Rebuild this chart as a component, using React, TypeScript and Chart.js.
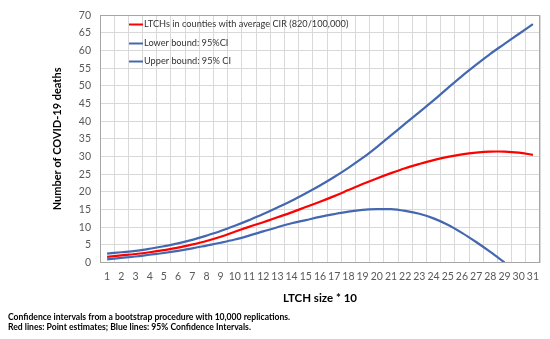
import React, { useEffect, useRef } from 'react';
import { Chart, registerables } from 'chart.js';

Chart.register(...registerables);

const categories = ['1', '2', '3', '4', '5', '6', '7', '8', '9', '10', '11', '12', '13', '14', '15', '16', '17', '18', '19', '20', '21', '22', '23', '24', '25', '26', '27', '28', '29', '30', '31'];

const pointEstimate = [1.6, 2.0, 2.4, 2.9, 3.5, 4.2, 5.1, 6.1, 7.3, 8.7, 10.1, 11.4, 12.8, 14.2, 15.7, 17.2, 18.8, 20.5, 22.2, 23.8, 25.3, 26.7, 27.9, 29.0, 29.9, 30.6, 31.1, 31.4, 31.4, 31.1, 30.5];

const lowerBound = [0.9, 1.3, 1.7, 2.2, 2.7, 3.3, 4.0, 4.8, 5.6, 6.5, 7.6, 8.8, 10.0, 11.1, 12.0, 12.9, 13.7, 14.4, 14.9, 15.1, 15.1, 14.6, 13.8, 12.5, 10.7, 8.4, 5.8, 3.0, 0.0, null, null];

const upperBound = [2.5, 2.9, 3.3, 3.9, 4.6, 5.4, 6.4, 7.6, 8.9, 10.4, 12.0, 13.7, 15.6, 17.5, 19.6, 21.8, 24.2, 26.8, 29.6, 32.7, 36.0, 39.3, 42.6, 45.9, 49.4, 52.8, 56.0, 59.1, 61.9, 64.7, 67.5];

const seriesLabels = ['LTCHs in counties with average CIR (820/100,000)', 'Lower bound: 95%CI', 'Upper bound: 95% CI'];
const xAxisTitle = 'LTCH size * 10';
const yAxisTitle = 'Number of COVID-19 deaths';
const footnoteLines = [
  'Confidence intervals from a bootstrap procedure with 10,000 replications.',
  'Red lines: Point estimates; Blue lines: 95% Confidence Intervals.',
];

const FONT = "Lato, 'Liberation Sans', sans-serif";
const RED = '#FF0000';
const BLUE = '#4468B0';

const insideLegend = {
  id: 'insideLegend',
  afterDatasetsDraw(chart: any) {
    const { ctx, chartArea } = chart;
    ctx.save();
    ctx.font = `9.2px ${FONT}`;
    ctx.textBaseline = 'middle';
    ctx.textAlign = 'left';
    chart.data.datasets.forEach((ds: any, i: number) => {
      const y = Math.round(chartArea.top + 9 + i * 18.3) + 0.5;
      const x = chartArea.left + 29;
      ctx.strokeStyle = ds.borderColor;
      ctx.lineWidth = 2;
      ctx.beginPath();
      ctx.moveTo(x, y);
      ctx.lineTo(x + 14, y);
      ctx.stroke();
      ctx.fillStyle = '#333333';
      ctx.fillText(ds.label, x + 15, y);
    });
    ctx.restore();
  },
};

const plotBorder = {
  id: 'plotBorder',
  afterDraw(chart: any) {
    const { ctx, chartArea } = chart;
    const l = Math.round(chartArea.left) + 0.5;
    const t = Math.round(chartArea.top) + 0.5;
    const r = Math.round(chartArea.right) - 0.5;
    const b = Math.round(chartArea.bottom) - 0.5;
    ctx.save();
    ctx.strokeStyle = '#A6A6A6';
    ctx.lineWidth = 1;
    ctx.strokeRect(l, t, r - l, b - t);
    ctx.restore();
  },
};

export default function App() {
  const ref = useRef<HTMLCanvasElement | null>(null);

  useEffect(() => {
    if (!ref.current) return;
    const chart = new Chart(ref.current, {
      type: 'line',
      data: {
        labels: categories,
        datasets: [
          { label: seriesLabels[0], data: pointEstimate, borderColor: RED, backgroundColor: RED, borderWidth: 2.2, pointRadius: 0, tension: 0.35, fill: false },
          { label: seriesLabels[1], data: lowerBound, borderColor: BLUE, backgroundColor: BLUE, borderWidth: 2.2, pointRadius: 0, tension: 0.35, fill: false },
          { label: seriesLabels[2], data: upperBound, borderColor: BLUE, backgroundColor: BLUE, borderWidth: 2.2, pointRadius: 0, tension: 0.35, fill: false },
        ],
      },
      options: {
        animation: false,
        responsive: true,
        maintainAspectRatio: false,
        layout: { padding: { left: 8, right: 10, top: 15, bottom: 6 } },
        plugins: {
          legend: { display: false },
          tooltip: { enabled: false },
          title: {
            display: true,
            position: 'bottom',
            align: 'start',
            text: footnoteLines,
            color: '#000',
            font: { family: FONT, size: 8.6, weight: 'bold', lineHeight: 1.25 },
            padding: { top: 0, bottom: 0 },
          },
        },
        scales: {
          x: {
            type: 'category',
            offset: true,
            grid: { offset: true, color: '#D9D9D9', drawTicks: false },
            border: { display: false },
            ticks: { padding: 8, color: '#595959', font: { family: FONT, size: 10.5 }, maxRotation: 0, autoSkip: false },
            title: { display: true, text: xAxisTitle, color: '#000', font: { family: FONT, size: 11.5, weight: 'bold' }, padding: { top: 0, bottom: 6 } },
            afterFit: (s: any) => { s.height = 49; },
          },
          y: {
            min: 0,
            max: 70,
            ticks: { stepSize: 5, padding: 9, color: '#595959', font: { family: FONT, size: 10.5 } },
            grid: { color: '#D9D9D9', drawTicks: false },
            border: { display: false },
            title: { display: true, text: yAxisTitle, color: '#000', font: { family: FONT, size: 11, weight: 'bold' }, padding: { top: 43, bottom: 0 } },
            afterFit: (s: any) => { s.width = 92; },
          },
        },
      },
      plugins: [insideLegend, plotBorder],
    });
    return () => chart.destroy();
  }, []);

  return (
    <div style={{ position: 'fixed', left: 0, top: 0, width: 550, height: 339, background: '#fff' }}>
      <canvas ref={ref} />
    </div>
  );
}
